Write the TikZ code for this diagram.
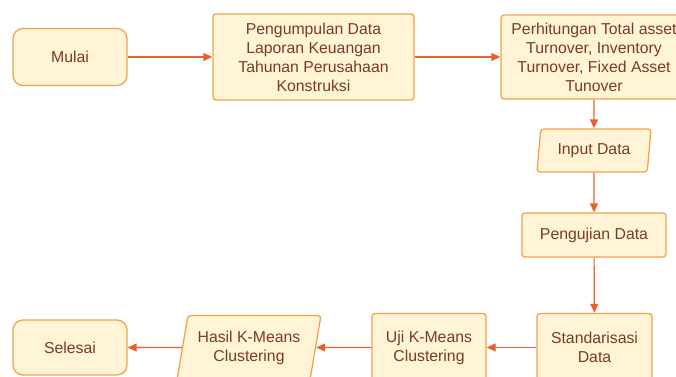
\documentclass[tikz,border=0pt]{standalone}
\usepackage{fontspec}
\setmainfont{Liberation Sans}
\usepackage{xcolor}
\usepackage{tikz}
\usetikzlibrary{shapes.geometric, arrows.meta}

\definecolor{isi}{HTML}{FFF5D6}
\definecolor{garis}{HTML}{F4A14E}
\definecolor{panahwarna}{HTML}{E8612C}
\definecolor{teks}{HTML}{7A3B22}

\begin{document}
\begin{tikzpicture}[x=1pt, y=-1pt,
        proses/.style={draw=garis, fill=isi, line width=1.3pt, rounded corners=3pt,
            text=teks, align=center, inner sep=0pt,
            font=\fontsize{15.8}{19}\selectfont},
        terminal/.style={proses, rounded corners=10pt},
        dataio/.style={proses, trapezium, trapezium left angle=75, trapezium right angle=105,
            trapezium stretches body=true},
        panah/.style={draw=panahwarna, line width=1.2pt, -{Triangle[length=9pt, width=8pt]}}]
        \useasboundingbox (0,0) rectangle (676,376);
        \node[terminal, minimum width=114pt, minimum height=57pt] (mulai) at (70,57) {Mulai};
        \node[proses, minimum width=201pt, minimum height=86pt] (kumpul) at (313.5,57) {Pengumpulan Data\\Laporan Keuangan\\Tahunan Perusahaan\\Konstruksi};
        \node[proses, minimum width=186pt, minimum height=84pt] (hitung) at (594,57) {Perhitungan Total asset\\Turnover, Inventory\\Turnover, Fixed Asset\\Tunover};
        \node[dataio, minimum width=114pt, minimum height=43pt] (input) at (594,150.5) {Input Data};
        \node[proses, minimum width=144pt, minimum height=44pt] (uji) at (594,235) {Pengujian Data};
        \node[proses, minimum width=115pt, minimum height=68pt] (standar) at (594.5,347.5) {Standarisasi\\Data};
        \node[proses, minimum width=114pt, minimum height=68pt] (kmeans) at (429,347.5) {Uji K-Means\\Clustering};
        \node[dataio, trapezium left angle=72, trapezium right angle=108, minimum width=144pt, minimum height=64pt] (hasil) at (249,347.5) {Hasil K-Means\\Clustering};
        \node[terminal, minimum width=114pt, minimum height=55pt] (selesai) at (70,347.5) {Selesai};
        \draw[panah] (mulai) -- (kumpul);
        \draw[panah] (kumpul) -- (hitung);
        \draw[panah] (hitung) -- (input);
        \draw[panah] (input) -- (uji);
        \draw[panah] (uji) -- (standar);
        \draw[panah] (standar) -- (kmeans);
        \draw[panah] (kmeans) -- (hasil);
        \draw[panah] (hasil) -- (selesai);
    \end{tikzpicture}
\end{document}
